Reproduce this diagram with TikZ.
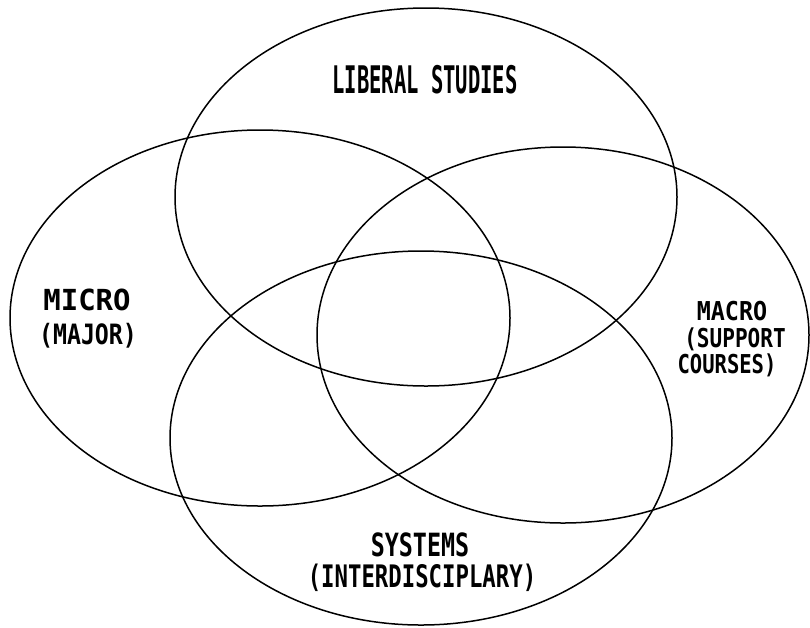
\documentclass[tikz,border=0pt]{standalone}
\usepackage{fontspec}
\usepackage{graphicx}
\newfontfamily\plotfont{DejaVu Sans Mono Bold}
\tikzset{
  setring/.style={draw=black, line width=1.5pt},
  lbl/.style={anchor=base, inner sep=0pt, font=\plotfont}
}
\newcommand\sq[3]{\fontsize{#2}{#2}\selectfont\scalebox{#1}[1]{#3}}
\begin{document}
\begin{tikzpicture}[x=1pt,y=-1pt]
\useasboundingbox (0,0) rectangle (810,627);
\fill[white] (0,0) rectangle (810,627);
% four overlapping sets
\draw[setring] (426,197) ellipse [x radius=251pt, y radius=189pt];
\draw[setring] (260,318) ellipse [x radius=250pt, y radius=188pt];
\draw[setring] (563,335) ellipse [x radius=246pt, y radius=188pt];
\draw[setring] (421,438) ellipse [x radius=251pt, y radius=187pt];
% labels
\node[lbl] (lib) at (425,93) {\sq{0.54}{38}{LIBERAL STUDIES}};
\node[lbl] (mic1) at (87,310) {\sq{1.0}{29}{MICRO}};
\node[lbl] (mic2) at (88,344) {\sq{0.83}{28}{(MAJOR)}};
\node[lbl] (mac1) at (732,320) {\sq{0.9}{26}{MACRO}};
\node[lbl] (mac2) at (735,347) {\sq{0.81}{26}{(SUPPORT}};
\node[lbl] (mac3) at (727,373) {\sq{0.79}{26}{COURSES)}};
\node[lbl] (sys1) at (420,556) {\sq{0.73}{32}{SYSTEMS}};
\node[lbl] (sys2) at (422,587) {\sq{0.72}{31}{(INTERDISCIPLARY)}};
\end{tikzpicture}
\end{document}
